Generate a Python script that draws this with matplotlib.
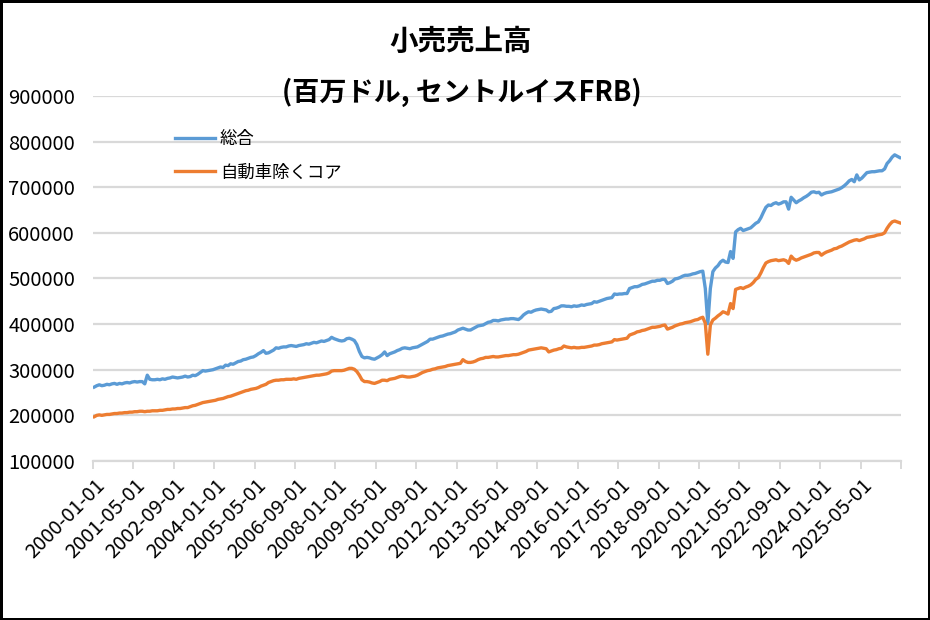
import numpy as np
import pandas as pd
import matplotlib
matplotlib.use("Agg")
import matplotlib.pyplot as plt

plt.rcParams["font.family"] = ["Noto Sans CJK JP", "DejaVu Sans"]

# ================================
# DATA (百万ドル, monthly in thousands)
# ================================
dates = pd.date_range("2000-01-01", periods=320, freq="MS").strftime("%Y-%m-%d")

total_k = [
    # 2000
    262, 265, 267, 265, 266, 268, 267, 269, 270, 268, 270, 269,
    # 2001
    271, 272, 271, 273, 274, 273, 274, 274, 269, 288, 279, 278,
    # 2002
    278, 279, 278, 280, 279, 281, 282, 284, 283, 282, 283, 284,
    # 2003
    286, 284, 285, 288, 287, 290, 294, 298, 297, 298, 299, 300,
    # 2004
    302, 304, 306, 305, 310, 309, 313, 312, 315, 318, 319, 322,
    # 2005
    323, 325, 327, 328, 331, 335, 338, 342, 336, 337, 340, 343,
    # 2006
    348, 347, 349, 350, 350, 352, 353, 352, 351, 353, 354, 355,
    # 2007
    357, 356, 358, 360, 359, 361, 363, 362, 364, 366, 371, 368,
    # 2008
    366, 364, 363, 364, 368, 369, 367, 364, 355, 340, 329, 326,
    # 2009
    327, 326, 324, 323, 326, 329, 333, 339, 331, 335, 337, 339,
    # 2010
    342, 344, 347, 348, 347, 346, 348, 349, 350, 353, 356, 359,
    # 2011
    362, 367, 367, 369, 371, 373, 374, 376, 378, 379, 381, 383,
    # 2012
    387, 389, 391, 389, 387, 387, 390, 393, 396, 397, 398, 401,
    # 2013
    404, 405, 408, 408, 407, 409, 410, 411, 411, 412, 412, 411,
    # 2014
    410, 414, 420, 424, 427, 426, 429, 431, 432, 433, 432, 431,
    # 2015
    427, 428, 434, 435, 437, 440, 440, 439, 439, 438, 440, 439,
    # 2016
    440, 442, 441, 443, 444, 445, 449, 448, 450, 452, 454, 456,
    # 2017
    457, 458, 466, 465, 466, 466, 467, 467, 478, 480, 482, 482,
    # 2018
    484, 487, 488, 490, 492, 494, 494, 496, 496, 498, 498, 489,
    # 2019
    491, 494, 499, 500, 502, 505, 507, 507, 508, 510, 511, 513,
    # 2020
    515, 516, 478, 401, 478, 515, 523, 528, 536, 540, 536, 535,
    # 2021
    559, 544, 602, 607, 610, 605, 607, 609, 611, 616, 621, 624,
    # 2022
    633, 645, 656, 661, 660, 664, 666, 663, 665, 668, 668, 652,
    # 2023
    678, 672, 666, 670, 673, 677, 680, 684, 689, 690, 688, 689,
    # 2024
    683, 686, 688, 689, 690, 692, 694, 696, 699, 703, 708, 714,
    # 2025
    717, 712, 727, 716, 720, 726, 732, 733, 734, 734, 735, 736,
    # 2026
    736, 740, 752, 758, 766, 771, 768, 765,
]

core_k = [
    # 2000
    197, 200, 201, 200, 201, 202, 202, 203, 204, 204, 205, 205,
    # 2001
    206, 206, 207, 207, 208, 208, 209, 209, 208, 209, 209, 210,
    # 2002
    210, 210, 211, 211, 212, 213, 213, 214, 214, 215, 215, 216,
    # 2003
    217, 217, 219, 221, 222, 224, 226, 228, 229, 230, 231, 232,
    # 2004
    233, 235, 236, 237, 239, 241, 242, 244, 246, 248, 250, 252,
    # 2005
    254, 255, 257, 258, 259, 261, 264, 266, 268, 272, 274, 276,
    # 2006
    277, 277, 278, 278, 279, 279, 279, 280, 279, 281, 282, 283,
    # 2007
    284, 285, 286, 287, 288, 288, 289, 290, 291, 293, 297, 298,
    # 2008
    298, 298, 298, 299, 301, 303, 303, 301, 296, 288, 278, 274,
    # 2009
    274, 273, 271, 270, 272, 274, 277, 277, 276, 279, 280, 281,
    # 2010
    283, 285, 286, 285, 284, 284, 285, 286, 288, 291, 294, 296,
    # 2011
    298, 299, 301, 302, 304, 305, 306, 307, 309, 310, 311, 312,
    # 2012
    313, 314, 322, 318, 316, 316, 317, 319, 322, 324, 325, 327,
    # 2013
    327, 328, 329, 328, 328, 329, 330, 331, 331, 332, 333, 333,
    # 2014
    334, 336, 338, 340, 343, 344, 345, 346, 347, 348, 347, 346,
    # 2015
    339, 341, 343, 344, 346, 347, 352, 350, 349, 348, 349, 348,
    # 2016
    348, 349, 349, 350, 351, 352, 354, 354, 355, 357, 358, 359,
    # 2017
    360, 361, 366, 365, 366, 367, 368, 369, 376, 378, 380, 383,
    # 2018
    384, 386, 387, 389, 391, 393, 393, 394, 395, 397, 398, 389,
    # 2019
    391, 393, 396, 398, 400, 401, 403, 404, 405, 407, 409, 410,
    # 2020
    413, 415, 402, 334, 398, 409, 413, 418, 422, 427, 425, 422,
    # 2021
    445, 434, 476, 478, 480, 478, 481, 483, 486, 491, 498, 502,
    # 2022
    512, 524, 534, 537, 539, 540, 541, 539, 540, 541, 539, 533,
    # 2023
    549, 543, 540, 542, 545, 547, 549, 551, 553, 556, 557, 557,
    # 2024
    551, 555, 558, 560, 562, 565, 566, 569, 571, 574, 577, 580,
    # 2025
    582, 584, 585, 583, 585, 587, 590, 591, 592, 593, 595, 596,
    # 2026
    597, 600, 610, 618, 624, 626, 624, 622,
]

total = np.array(total_k) * 1000
core = np.array(core_k) * 1000

series_names = ["総合", "自動車除くコア"]
yticks = list(range(100000, 900001, 100000))

# ================================
# PLOT
# ================================
fig = plt.figure(figsize=(9.3, 6.2), dpi=100, edgecolor="black", linewidth=2.5)
ax = fig.add_axes([0.1, 0.2565, 0.8688, 0.5887])

x = np.arange(len(dates))
ax.plot(x, total, color="#5B9BD5", lw=2.4, label=series_names[0], zorder=3)
ax.plot(x, core, color="#ED7D31", lw=2.4, label=series_names[1], zorder=3)

ax.set_xlim(-0.5, len(dates) - 0.5)
ax.set_ylim(100000, 900000)

# y axis
ax.set_yticks(yticks)
ax.set_yticklabels([str(v) for v in yticks])
ax.tick_params(axis="y", length=0, pad=13, labelsize=14.5)
ax.grid(axis="y", color="#D9D9D9", lw=1.6, zorder=0)

# x axis (category style)
lab_pos = x[::16]
ax.set_xticks(lab_pos)
ax.set_xticklabels(dates[::16], rotation=45, ha="right", rotation_mode="anchor")
ax.set_xticks(np.arange(-0.5, len(dates), 16), minor=True)
ax.tick_params(axis="x", which="major", length=0, pad=10, labelsize=14.5)
ax.tick_params(axis="x", which="minor", length=6, width=1.4, color="#D9D9D9")

for s in ["top", "right", "left"]:
    ax.spines[s].set_visible(False)
ax.spines["bottom"].set_color("#D9D9D9")
ax.spines["bottom"].set_linewidth(1.6)

# title
fig.text(0.495, 0.932, "小売売上高", ha="center", va="center",
         fontsize=20.5, fontweight="bold")
fig.text(0.497, 0.851, "(百万ドル, セントルイスFRB)", ha="center", va="center",
         fontsize=19.5, fontweight="bold")

ax.legend(loc="upper left", bbox_to_anchor=(0.082, 0.95), frameon=False,
          fontsize=12.5, handlelength=2.3, labelspacing=0.9, handletextpad=0.3)

fig.savefig("out.png", dpi=100)
